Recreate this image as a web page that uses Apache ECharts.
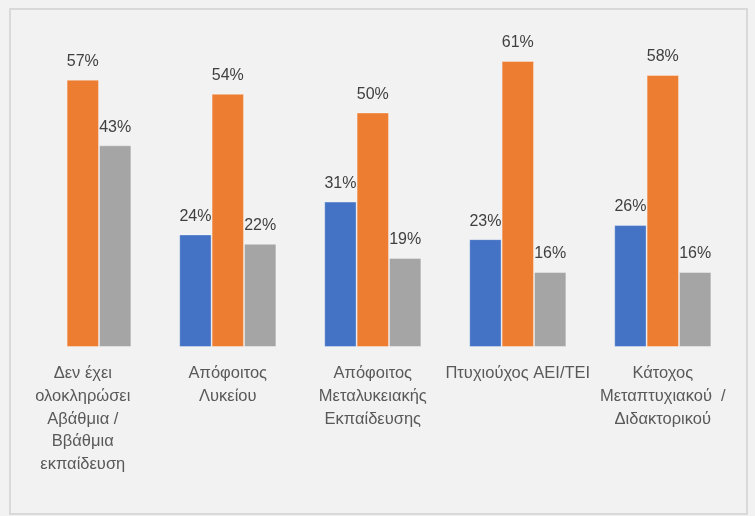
<!DOCTYPE html>
<html><head><meta charset="utf-8">
<script src="https://cdn.jsdelivr.net/npm/echarts@6/dist/echarts.min.js"></script>
<style>html,body{margin:0;padding:0;background:#f2f2f2;}#c{width:755px;height:516px;}</style>
</head><body><div id="c"></div>
<script>
const categories = [
  "Δεν έχει\nολοκληρώσει\nΑβάθμια /\nΒβάθμια\nεκπαίδευση",
  "Απόφοιτος\nΛυκείου",
  "Απόφοιτος\nΜεταλυκειακής\nΕκπαίδευσης",
  "Πτυχιούχος ΑΕΙ/ΤΕΙ",
  "Κάτοχος\nΜεταπτυχιακού  /\nΔιδακτορικού"
];
const seriesBlue = [null, 24, 31, 23, 26];
const seriesOrange = [57, 54, 50, 61, 58];
const seriesGray = [43, 22, 19, 16, 16];

const chart = echarts.init(document.getElementById('c'), null, {renderer: 'canvas'});
const lbl = {show: true, position: 'top', distance: 10, color: '#404040', fontSize: 16,
  fontFamily: 'Liberation Sans', formatter: p => p.value + '%'};
function mk(data, color) {
  return {type: 'bar', data: data, barGap: '0%', barCategoryGap: '33%',
    itemStyle: {color: color, borderColor: 'rgba(255,255,255,0.35)', borderWidth: 1},
    label: lbl, emphasis: {disabled: true}};
}
chart.setOption({
  backgroundColor: '#f2f2f2',
  animation: false,
  graphic: [{type: 'rect', shape: {x: 10, y: 9, width: 737, height: 505},
    style: {fill: 'none', stroke: '#d9d9d9', lineWidth: 2}, silent: true}],
  grid: {left: 10.3, width: 725, top: 18.7, height: 328.3, containLabel: false},
  xAxis: {type: 'category', data: categories,
    axisLine: {show: false}, axisTick: {show: false},
    axisLabel: {interval: 0, color: '#595959', fontSize: 16.5, fontFamily: 'Liberation Sans',
      lineHeight: 22.8, margin: 15}},
  yAxis: {type: 'value', min: 0, max: 70, show: false, splitLine: {show: false}},
  series: [mk(seriesBlue, '#4472c4'), mk(seriesOrange, '#ed7d31'), mk(seriesGray, '#a5a5a5')]
});
</script></body></html>
